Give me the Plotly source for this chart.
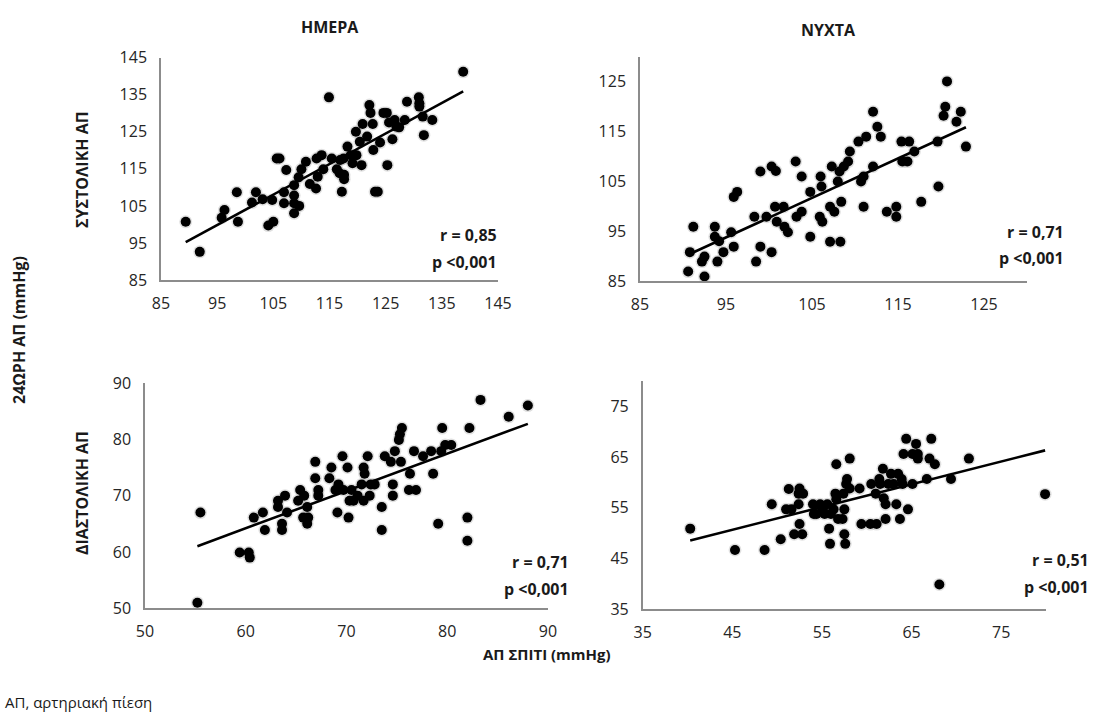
import numpy as np
import plotly.graph_objects as go

# ---- Data ----
# Panel A: day systolic (home BP vs 24h BP)
day_sys_home = [89.4, 91.9, 96.3, 95.8, 98.5, 98.7, 101.2, 101.9, 103.1, 104.8, 104.1, 105.0, 105.6, 106.1,
                106.9, 106.9, 107.3, 108.7, 108.7, 108.7, 109.6, 108.7, 109.5, 110.0, 110.8, 111.5, 112.6,
                112.9, 112.7, 113.6, 113.9, 114.9, 115.4, 116.3, 116.9, 116.8, 117.2, 117.6, 117.6, 117.5,
                118.2, 118.8, 119.1, 119.8, 120.4, 120.7, 119.7, 120.9, 121.7, 122.1, 122.3, 122.8, 122.7,
                123.1, 123.6, 124.0, 124.6, 125.2, 125.3, 125.6, 126.2, 126.6, 126.9, 127.4, 128.4, 128.8,
                130.9, 131.0, 131.0, 131.6, 131.8, 133.3, 138.8]
day_sys_24h = [100.7, 92.6, 103.9, 101.8, 108.7, 100.7, 105.9, 108.7, 106.8, 106.6, 99.7, 100.7, 117.8, 117.8,
               108.7, 105.7, 114.7, 107.8, 105.7, 103.0, 105.0, 110.6, 112.7, 114.9, 116.9, 110.9, 109.7,
               112.9, 117.8, 118.7, 114.9, 134.3, 117.8, 114.9, 117.4, 113.8, 108.8, 113.4, 112.2, 117.8,
               121.0, 118.7, 116.5, 118.7, 122.3, 116.0, 125.0, 127.1, 123.7, 132.2, 130.1, 120.1, 127.1,
               108.8, 108.8, 122.1, 130.1, 130.1, 116.0, 127.5, 123.0, 128.2, 126.4, 126.2, 128.2, 133.1,
               134.3, 132.7, 131.8, 129.1, 124.1, 128.2, 141.2]

# Panel B: night systolic
night_sys_home = [90.6, 90.8, 91.2, 92.2, 92.5, 92.5, 93.7, 93.7, 94.0, 94.2, 94.7, 95.6, 95.9, 95.9, 96.3,
                  98.3, 98.5, 99.0, 99.0, 99.7, 100.3, 100.3, 100.8, 100.7, 100.9, 101.7, 101.8, 102.2,
                  103.1, 103.2, 103.8, 103.8, 104.8, 104.8, 106.0, 106.1, 105.9, 106.2, 107.1, 107.1, 107.3,
                  107.6, 108.0, 108.2, 108.3, 108.4, 108.7, 109.2, 109.4, 110.4, 110.7, 111.0, 111.0, 111.3,
                  112.1, 112.1, 112.6, 113.0, 113.7, 114.8, 114.8, 115.4, 115.5, 116.3, 116.1, 116.9, 117.7,
                  119.6, 119.7, 120.3, 120.5, 120.7, 121.8, 122.3, 122.9]
night_sys_24h = [86.9, 90.8, 95.9, 88.9, 89.9, 85.9, 95.9, 93.9, 88.9, 93.0, 90.8, 94.8, 91.9, 101.9, 102.9,
                 97.9, 88.9, 91.9, 107.0, 97.9, 90.8, 108.0, 107.1, 99.9, 96.9, 99.9, 95.9, 94.8,
                 109.0, 97.9, 98.9, 106.0, 93.9, 102.9, 106.0, 104.0, 97.9, 96.9, 92.9, 99.9, 108.0,
                 98.9, 105.0, 107.0, 92.9, 100.9, 108.0, 109.0, 111.0, 113.0, 105.0, 106.0, 99.9, 114.0,
                 108.0, 119.0, 116.0, 114.0, 98.9, 99.9, 97.9, 113.0, 109.0, 113.0, 109.0, 111.0, 100.9,
                 113.0, 104.0, 118.2, 120.0, 125.1, 117.0, 119.0, 112.0]

# Panel C: day diastolic
day_dia_home = [55.2, 55.5, 59.4, 60.3, 60.4, 60.8, 61.7, 61.9, 63.2, 63.2, 63.6, 63.6, 63.9, 64.1, 65.4,
                65.2, 65.7, 65.8, 66.1, 66.1, 66.2, 66.9, 66.9, 67.2, 67.2, 68.3, 68.5, 68.9, 69.1, 69.2,
                69.6, 69.7, 70.1, 70.2, 70.3, 70.5, 70.7, 71.1, 71.5, 71.7, 71.8, 71.7, 72.1, 72.3, 72.4,
                72.8, 73.5, 73.5, 73.8, 74.4, 74.6, 74.6, 74.8, 75.2, 75.3, 75.5, 75.4, 76.3, 76.2, 76.9,
                76.7, 77.6, 78.4, 78.6, 79.1, 79.5, 79.4, 79.8, 80.4, 82.0, 82.0, 82.2, 83.3, 86.1, 88.0]
day_dia_24h = [51.0, 67.0, 59.9, 59.9, 59.0, 66.1, 67.0, 63.9, 69.1, 68.0, 65.0, 63.9, 70.0, 67.0, 71.0,
               69.1, 66.1, 70.0, 68.0, 65.0, 66.1, 76.0, 73.1, 71.0, 70.0, 73.1, 75.0, 71.0, 67.0, 72.0,
               77.0, 71.0, 75.0, 66.1, 69.1, 71.0, 69.1, 70.0, 72.0, 75.0, 73.9, 69.1, 77.0, 70.0, 72.0,
               72.0, 68.0, 63.9, 77.0, 76.0, 72.0, 70.0, 77.9, 79.9, 80.9, 82.0, 76.0, 73.9, 71.0, 71.0,
               77.9, 77.0, 77.9, 73.9, 65.0, 82.0, 77.9, 79.0, 79.0, 66.1, 62.0, 82.0, 87.0, 84.0, 86.0]

# Panel D: night diastolic
night_dia_home = [40.3, 45.3, 48.6, 49.4, 50.4, 51.3, 51.0, 51.6, 51.9, 52.4, 52.5, 52.4, 52.5, 52.8, 52.9,
                  54.0, 54.1, 54.4, 54.8, 55.1, 55.3, 55.6, 55.8, 55.9, 56.0, 56.3, 56.5, 56.6, 56.6, 56.8,
                  57.3, 57.5, 57.5, 57.6, 57.7, 57.8, 57.4, 58.1, 58.1, 59.2, 59.4, 60.4, 60.5, 61.1, 61.0,
                  61.4, 61.5, 61.8, 61.9, 62.1, 62.1, 62.4, 62.7, 63.0, 63.3, 63.5, 63.7, 63.9, 64.0, 64.1,
                  64.4, 64.6, 65.1, 65.1, 65.5, 65.7, 65.7, 66.7, 67.0, 67.2, 67.6, 68.1, 69.4, 71.4, 79.9]
night_dia_24h = [50.9, 46.7, 46.7, 55.7, 48.8, 58.7, 54.7, 54.7, 49.8, 57.8, 58.8, 55.7, 51.8, 49.8, 57.8,
                 55.7, 53.8, 53.8, 55.7, 54.7, 53.8, 55.7, 50.9, 47.9, 53.8, 54.7, 57.8, 63.6, 56.7, 52.8,
                 52.8, 54.7, 49.8, 47.9, 59.7, 60.7, 57.8, 64.7, 58.8, 58.8, 51.8, 51.8, 59.7, 51.8, 57.8,
                 60.7, 59.7, 62.7, 56.9, 55.7, 52.8, 59.7, 61.7, 59.7, 55.7, 61.7, 52.8, 60.7, 59.7, 65.6,
                 68.6, 54.7, 59.7, 65.6, 67.6, 65.6, 64.7, 60.7, 64.7, 68.6, 63.6, 39.9, 60.7, 64.7, 57.7]

col_titles = ["ΗΜΕΡΑ", "ΝΥΧΤΑ"]
row_titles = ["ΣΥΣΤΟΛΙΚΗ ΑΠ", "ΔΙΑΣΤΟΛΙΚΗ ΑΠ"]
stats = [("r = 0,85", "p <0,001"), ("r = 0,71", "p <0,001"),
         ("r = 0,71", "p <0,001"), ("r = 0,51", "p <0,001")]

panels = [
    dict(x=day_sys_home, y=day_sys_24h, xr=[85, 145], yr=[85, 145], xt=list(range(85, 146, 10)), yt=list(range(85, 146, 10))),
    dict(x=night_sys_home, y=night_sys_24h, xr=[85, 130], yr=[85, 130], xt=list(range(85, 126, 10)), yt=list(range(85, 126, 10))),
    dict(x=day_dia_home, y=day_dia_24h, xr=[50, 90], yr=[50, 90], xt=list(range(50, 91, 10)), yt=list(range(50, 91, 10))),
    dict(x=night_dia_home, y=night_dia_24h, xr=[35, 80], yr=[35, 80], xt=list(range(35, 76, 10)), yt=list(range(35, 76, 10))),
]

W, H = 1094, 714


def px(x):
    return x / W


def py(y):
    return 1 - y / H


# plot-area boxes in window pixels (left, right, top, bottom)
boxes = [(161, 498, 57.7, 280), (640, 1027, 57, 281), (145, 548, 383, 608.3), (642.7, 1046, 381, 609.3)]

FONT = "Open Sans, Noto Sans, DejaVu Sans, sans-serif"
fig = go.Figure()
layout = {}
for i, (p, b) in enumerate(zip(panels, boxes)):
    n = i + 1
    xa = "x" if n == 1 else f"x{n}"
    ya = "y" if n == 1 else f"y{n}"
    xs = np.array(p["x"]); ys = np.array(p["y"])
    # soft shadow halo
    fig.add_trace(go.Scatter(x=xs, y=ys, mode="markers", xaxis=xa, yaxis=ya,
                             marker=dict(size=13, color="rgba(0,0,0,0.12)", line=dict(width=0)),
                             hoverinfo="skip", showlegend=False, cliponaxis=False))
    fig.add_trace(go.Scatter(x=xs, y=ys, mode="markers", xaxis=xa, yaxis=ya,
                             marker=dict(size=10, color="black", line=dict(width=0)),
                             showlegend=False, cliponaxis=False))
    k, c = np.polyfit(xs, ys, 1)
    lx = np.array([xs.min(), xs.max()])
    fig.add_trace(go.Scatter(x=lx, y=k * lx + c, mode="lines", xaxis=xa, yaxis=ya,
                             line=dict(color="black", width=2.6), showlegend=False, hoverinfo="skip",
                             cliponaxis=False))
    l, r, t, bt = b
    axcommon = dict(showgrid=False, zeroline=False, showline=True, linecolor="#8c8c8c", linewidth=1.5,
                    ticks="", automargin=False, tickfont=dict(family=FONT, size=16, color="#262626"))
    layout["xaxis" if n == 1 else f"xaxis{n}"] = dict(axcommon, domain=[px(l), px(r)], range=p["xr"],
                                                       tickvals=p["xt"], anchor=ya, ticklabelstandoff=8)
    layout["yaxis" if n == 1 else f"yaxis{n}"] = dict(axcommon, domain=[py(bt), py(t)], range=p["yr"],
                                                       tickvals=p["yt"], anchor=xa, ticklabelstandoff=9)

fig.update_layout(**layout)

ann = []
bold = dict(family=FONT, size=16, color="#1a1a1a")


def add_text(text, x, y, font, **kw):
    ann.append(dict(text=text, x=px(x), y=py(y), xref="paper", yref="paper", showarrow=False,
                    font=font, **kw))


add_text("<b>" + col_titles[0] + "</b>", 330, 27, bold, xanchor="center", yanchor="middle")
add_text("<b>" + col_titles[1] + "</b>", 828, 30, bold, xanchor="center", yanchor="middle")
add_text("<b>" + row_titles[0] + "</b>", 82, 170, bold, textangle=-90, xanchor="center", yanchor="middle")
add_text("<b>" + row_titles[1] + "</b>", 82, 493, bold, textangle=-90, xanchor="center", yanchor="middle")
add_text("<b>24ΩΡΗ ΑΠ (mmHg)</b>", 19, 330, bold, textangle=-90, xanchor="center", yanchor="middle")
add_text("<b>ΑΠ ΣΠΙΤΙ (mmHg)</b>", 547, 654, dict(family=FONT, size=15, color="#1a1a1a"),
         xanchor="center", yanchor="middle")
add_text("ΑΠ, αρτηριακή πίεση", 3, 702, dict(family=FONT, size=15, color="#1a1a1a"),
         xanchor="left", yanchor="middle")

stat_pos = [(499, 235, 262), (1066, 232, 258), (571, 562, 589), (1091, 560, 587)]
for (rt, pt), (xr_, y1, y2) in zip(stats, stat_pos):
    for txt, yy in ((rt, y1), (pt, y2)):
        add_text("<b>" + txt + "</b>", xr_, yy, dict(family=FONT, size=16, color="#1a1a1a"),
                 xanchor="right", yanchor="middle")

fig.update_layout(template="none", width=W, height=H, autosize=False,
                  margin=dict(l=0, r=0, t=0, b=0, pad=0, autoexpand=False),
                  paper_bgcolor="white", plot_bgcolor="white", annotations=ann, showlegend=False)
# remove the default 8px page margin so the figure fills the 1094x714 window exactly
fig.write_html("out.html", config={"displayModeBar": False},
               post_script="document.body.style.margin='0px';document.body.style.overflow='hidden';")
